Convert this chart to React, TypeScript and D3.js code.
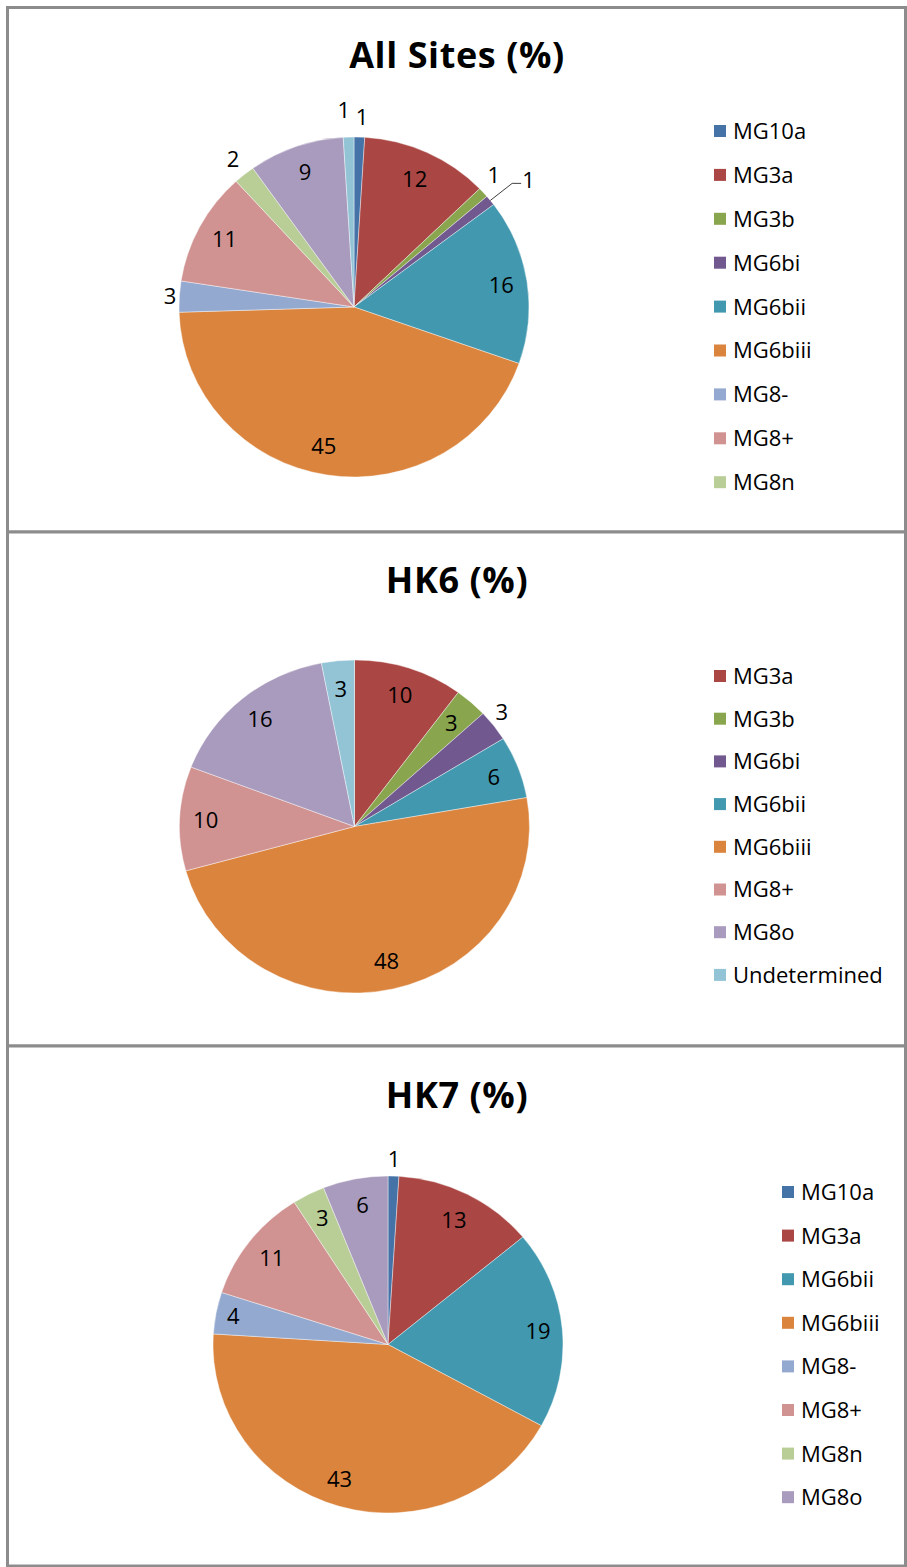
import React from "react";
import * as d3 from "d3";

// ---------- data ----------
const ALL_CATS = ["MG10a", "MG3a", "MG3b", "MG6bi", "MG6bii", "MG6biii", "MG8-", "MG8+", "MG8n", "MG8o", "Undetermined"];
const ALL_VALUES = [1, 12, 1, 1, 16, 45, 3, 11, 2, 9, 1];
const ALL_LEGEND = ["MG10a", "MG3a", "MG3b", "MG6bi", "MG6bii", "MG6biii", "MG8-", "MG8+", "MG8n"];

const HK6_CATS = ["MG3a", "MG3b", "MG6bi", "MG6bii", "MG6biii", "MG8+", "MG8o", "Undetermined"];
const HK6_VALUES = [10, 3, 3, 6, 48, 10, 16, 3];

const HK7_CATS = ["MG10a", "MG3a", "MG6bii", "MG6biii", "MG8-", "MG8+", "MG8n", "MG8o"];
const HK7_VALUES = [1, 13, 19, 43, 4, 11, 3, 6];

// ---------- styling / layout (not data) ----------
const COLORS: Record<string, string> = {
  MG10a: "#4572A7",
  MG3a: "#AA4643",
  MG3b: "#89A54E",
  MG6bi: "#71588F",
  MG6bii: "#4198AF",
  MG6biii: "#DB843D",
  "MG8-": "#93A9CF",
  "MG8+": "#D19392",
  MG8n: "#B9CD96",
  MG8o: "#A99BBD",
  Undetermined: "#92C4D6",
};

// label radius as fraction of pie radius
const ALL_LABEL_R = [1.12, 0.83, 1.15, 1.25, 0.84, 0.83, 1.07, 0.84, 1.12, 0.84, 1.16];
const ALL_LABEL_DX = [2, 0, -9, 0, 2, -8, 3, 0, 2, 0, -4];
const ALL_LEADER = [false, false, false, true, false, false, false, false, false, false, false];
const HK6_LABEL_R = [0.83, 0.83, 1.13, 0.84, 0.83, 0.84, 0.84, 0.83];
const HK6_LABEL_DX = [0, 0, -10, 2, 0, -2, 0, 0];
const HK7_LABEL_R = [1.1, 0.83, 0.85, 0.83, 0.9, 0.84, 0.84, 0.84];
const HK7_LABEL_DX = [0, 0, 2, -8, 0, 0, 1, 2];

const FONT = "'Open Sans', 'DejaVu Sans', sans-serif";

type PanelProps = {
  y0: number;
  y1: number;
  title: string;
  titleY: number;
  cats: string[];
  values: number[];
  labelR: number[];
  labelDx: number[];
  leader?: boolean[];
  legend: string[];
  cx: number;
  cy: number;
  rx: number;
  ry: number;
  legX: number;
  legY0: number;
  legStep: number;
};

function Panel(p: PanelProps) {
  const pie = d3
    .pie<number>()
    .sort(null)
    .value((d) => d);
  const arcs = pie(p.values);
  const arc = d3.arc<d3.PieArcDatum<number>>().innerRadius(0).outerRadius(p.rx);
  const sy = p.ry / p.rx;
  const pt = (a: number, f: number) => [
    p.cx + p.rx * f * Math.sin(a),
    p.cy - p.ry * f * Math.cos(a),
  ];
  return (
    <g>
      <rect
        x={7.5}
        y={p.y0}
        width={898}
        height={p.y1 - p.y0}
        fill="#fff"
        stroke="#8c8c8c"
        strokeWidth={3}
      />
      <text
        x={457}
        y={p.titleY}
        textAnchor="middle"
        fontFamily={FONT}
        fontWeight={700}
        fontSize={36}
        letterSpacing={0.6}
        fill="#000"
      >
        {p.title}
      </text>
      <g transform={`translate(${p.cx},${p.cy}) scale(1,${sy})`}>
        {arcs.map((a, i) => (
          <path
            key={i}
            d={arc(a) || ""}
            fill={COLORS[p.cats[i]]}
            stroke="#ffffff"
            strokeWidth={0.6}
            strokeOpacity={0.7}
          />
        ))}
      </g>
      {arcs.map((a, i) => {
        const mid = (a.startAngle + a.endAngle) / 2;
        const f = p.labelR[i];
        const isLead = p.leader && p.leader[i];
        if (isLead) {
          const [x0, y0] = pt(mid, 1.0);
          const [x1, y1] = pt(mid, 1.16);
          const x2 = x1 + 9;
          return (
            <g key={i}>
              <polyline
                points={`${x0},${y0} ${x1},${y1} ${x2},${y1}`}
                fill="none"
                stroke="#404040"
                strokeWidth={1}
              />
              <text
                x={x2 + 1}
                y={y1 - 3}
                dy="0.36em"
                textAnchor="start"
                fontFamily={FONT}
                fontSize={22}
                fill="#000"
              >
                {p.values[i]}
              </text>
            </g>
          );
        }
        const [x, y] = pt(mid, f);
        return (
          <text
            key={i}
            x={x + p.labelDx[i]}
            y={y}
            dy="0.36em"
            textAnchor="middle"
            fontFamily={FONT}
            fontSize={22}
            fill="#000"
          >
            {p.values[i]}
          </text>
        );
      })}
      {p.legend.map((c, i) => {
        const y = p.legY0 + i * p.legStep;
        return (
          <g key={c}>
            <rect x={p.legX} y={y - 6} width={12} height={12} fill={COLORS[c]} />
            <text
              x={p.legX + 19}
              y={y}
              dy="0.36em"
              fontFamily={FONT}
              fontSize={22}
              fill="#000"
            >
              {c}
            </text>
          </g>
        );
      })}
    </g>
  );
}

export default function App() {
  return (
    <svg
      width={907}
      height={1567}
      style={{ position: "absolute", left: 0, top: 0, background: "#fff" }}
    >
      <rect x={0} y={0} width={907} height={1567} fill="#fff" />
      <Panel
        y0={7.5}
        y1={532}
        title="All Sites (%)"
        titleY={68}
        cats={ALL_CATS}
        values={ALL_VALUES}
        labelR={ALL_LABEL_R}
        labelDx={ALL_LABEL_DX}
        leader={ALL_LEADER}
        legend={ALL_LEGEND}
        cx={354}
        cy={307}
        rx={175}
        ry={170}
        legX={714}
        legY0={131}
        legStep={43.9}
      />
      <Panel
        y0={532}
        y1={1046}
        title="HK6 (%)"
        titleY={593}
        cats={HK6_CATS}
        values={HK6_VALUES}
        labelR={HK6_LABEL_R}
        labelDx={HK6_LABEL_DX}
        legend={HK6_CATS}
        cx={354.5}
        cy={826.5}
        rx={175}
        ry={166.5}
        legX={714}
        legY0={676}
        legStep={42.7}
      />
      <Panel
        y0={1046}
        y1={1566}
        title="HK7 (%)"
        titleY={1108}
        cats={HK7_CATS}
        values={HK7_VALUES}
        labelR={HK7_LABEL_R}
        labelDx={HK7_LABEL_DX}
        legend={HK7_CATS}
        cx={388}
        cy={1344.5}
        rx={175}
        ry={168.5}
        legX={782}
        legY0={1192}
        legStep={43.6}
      />
    </svg>
  );
}
